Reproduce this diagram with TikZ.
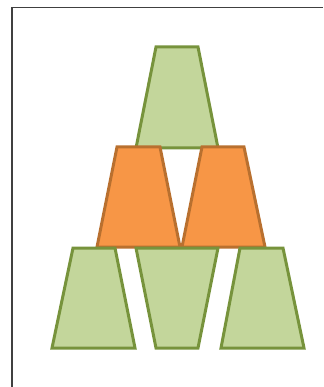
\documentclass[tikz,border=0pt]{standalone}
\usepackage{tikz}
\usetikzlibrary{calc}
\definecolor{leaf}{HTML}{C3D69B}
\definecolor{leafline}{HTML}{77933C}
\definecolor{peach}{HTML}{F79646}
\definecolor{peachline}{HTML}{B9702F}
\definecolor{frameline}{HTML}{404040}

\begin{document}
\begin{tikzpicture}[x=1pt, y=-1pt,
    greencup/.style={fill=leaf, draw=leafline, line width=3pt},
    orangecup/.style={fill=peach, draw=peachline, line width=3pt}]
    \useasboundingbox (0,0) rectangle (323,387);

    % Frame
    \draw[frameline, line width=1.2pt] (12,387) -- (12,7.5) -- (323,7.5);

    % Top row
    \draw[greencup] (156,47) -- (198,47) -- (218,148) -- (136,148) -- cycle;

    % Middle row
    \draw[orangecup] (117,147) -- (160,147) -- (180,247) -- (97,247) -- cycle;
    \draw[orangecup] (202,147) -- (244,147) -- (265,247) -- (182,247) -- cycle;

    % Bottom row
    \draw[greencup] (73,248) -- (115,248) -- (135,348) -- (52,348) -- cycle;
    \draw[greencup] (136,248) -- (218,248) -- (198,348) -- (156,348) -- cycle;
    \draw[greencup] (240,248) -- (283,248) -- (304,348) -- (221,348) -- cycle;
\end{tikzpicture}
\end{document}
